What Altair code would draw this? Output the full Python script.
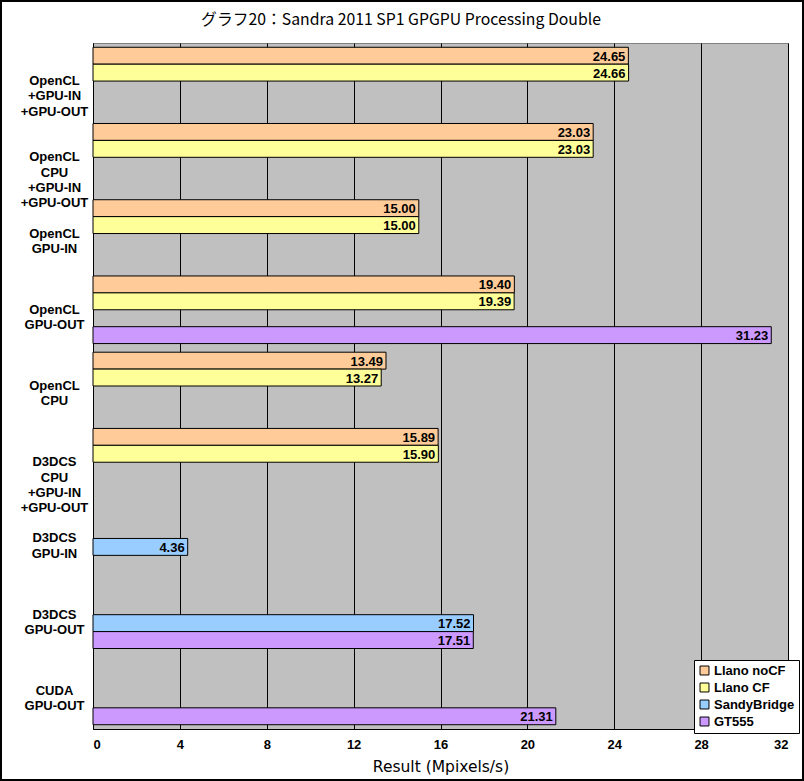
import altair as alt
import pandas as pd

title_text = "グラフ20：Sandra 2011 SP1 GPGPU Processing Double"
categories = [
    "OpenCL|+GPU-IN|+GPU-OUT",
    "OpenCL|CPU|+GPU-IN|+GPU-OUT",
    "OpenCL|GPU-IN",
    "OpenCL|GPU-OUT",
    "OpenCL|CPU",
    "D3DCS|CPU|+GPU-IN|+GPU-OUT",
    "D3DCS|GPU-IN",
    "D3DCS|GPU-OUT",
    "CUDA|GPU-OUT",
]
series = ["Llano noCF", "Llano CF", "SandyBridge", "GT555"]
colors = ["#FFCC99", "#FFFF99", "#99CCFF", "#CC99FF"]

llano_nocf = [24.65, 23.03, 15.00, 19.40, 13.49, 15.89, None, None, None]
llano_cf = [24.66, 23.03, 15.00, 19.39, 13.27, 15.90, None, None, None]
sandybridge = [None, None, None, None, None, None, 4.36, 17.52, None]
gt555 = [None, None, None, 31.23, None, None, None, 17.51, 21.31]

x_ticks = [0, 4, 8, 12, 16, 20, 24, 28, 32]

rows = []
for s, vals in zip(series, [llano_nocf, llano_cf, sandybridge, gt555]):
    for c, v in zip(categories, vals):
        if v is not None:
            rows.append({"cat": c, "series": s, "value": v})
df = pd.DataFrame(rows)

FONT = "Liberation Sans"

y_enc = alt.Y(
    "cat:N",
    sort=categories,
    scale=alt.Scale(domain=categories, paddingInner=0.113, paddingOuter=0.056),
    axis=alt.Axis(
        title=None,
        labelExpr="split(datum.label, '|')",
        labelAlign="center",
        labelBaseline="middle",
        labelPadding=39,
        labelLineHeight=15.3,
        labelFont=FONT,
        labelFontSize=13,
        labelFontWeight="bold",
        labelColor="black",
        ticks=False,
        tickSize=0,
        domainColor="black",
        domainWidth=1,
        grid=False,
    ),
)
yoff = alt.YOffset("series:N", sort=series, scale=alt.Scale(domain=series, paddingInner=0, paddingOuter=0))
x_enc = alt.X(
    "value:Q",
    scale=alt.Scale(domain=[0, 32], nice=False),
    axis=alt.Axis(
        values=x_ticks,
        title="Result (Mpixels/s)",
        titleFont="DejaVu Sans",
        titleFontSize=15.5,
        titleFontWeight="normal",
        titleColor="black",
        titlePadding=8,
        labelFont=FONT,
        labelFontSize=13,
        labelFontWeight="bold",
        labelColor="black",
        labelPadding=9,
        ticks=False,
        tickSize=0,
        grid=True,
        gridColor="black",
        gridWidth=1,
        gridOpacity=1,
        domainColor="black",
    ),
)

bars = alt.Chart(df).mark_bar(stroke="black", strokeWidth=1).encode(
    y=y_enc,
    yOffset=yoff,
    x=x_enc,
    color=alt.Color(
        "series:N",
        sort=series,
        scale=alt.Scale(domain=series, range=colors),
        legend=alt.Legend(
            title=None,
            orient="none",
            legendX=601,
            legendY=617,
            fillColor="white",
            strokeColor="black",
            padding=4,
            symbolType="square",
            symbolSize=80,
            symbolStrokeColor="black",
            symbolStrokeWidth=1,
            symbolOpacity=1,
            labelFont=FONT,
            labelFontSize=13,
            labelFontWeight="bold",
            labelColor="black",
            labelOffset=3,
            rowPadding=3,
            labelLimit=200,
        ),
    ),
)

labels = alt.Chart(df).mark_text(
    align="right", baseline="middle", dx=-3, dy=1,
    font=FONT, fontSize=13, fontWeight="bold", color="black",
).encode(
    y=alt.Y("cat:N", sort=categories),
    yOffset=alt.YOffset("series:N", sort=series),
    x=alt.X("value:Q"),
    text=alt.Text("value:Q", format=".2f"),
)

title_df = pd.DataFrame({"t": [title_text]})
title_mark = alt.Chart(title_df).mark_text(
    font="Noto Sans CJK JP", fontSize=15.8, color="black",
    align="center", baseline="middle", clip=False,
).encode(
    text="t:N", x=alt.value(308), y=alt.value(-23)
)

border = alt.Chart(pd.DataFrame({"a": [0]})).mark_rect(
    fill=None, stroke="black", strokeWidth=2, clip=False
).encode(
    x=alt.value(-92), x2=alt.value(710), y=alt.value(-42), y2=alt.value(737)
)

chart = alt.layer(bars, labels, title_mark, border).properties(
    width=695,
    height=686,
    padding={"left": 93, "top": 43, "right": 16, "bottom": 52},
    autosize=alt.AutoSizeParams(type="none"),
    background="white",
).configure_view(
    fill="#C0C0C0", stroke="#808080", strokeWidth=1
)

chart.save("out.html", embed_options={"renderer": "svg", "actions": False})
